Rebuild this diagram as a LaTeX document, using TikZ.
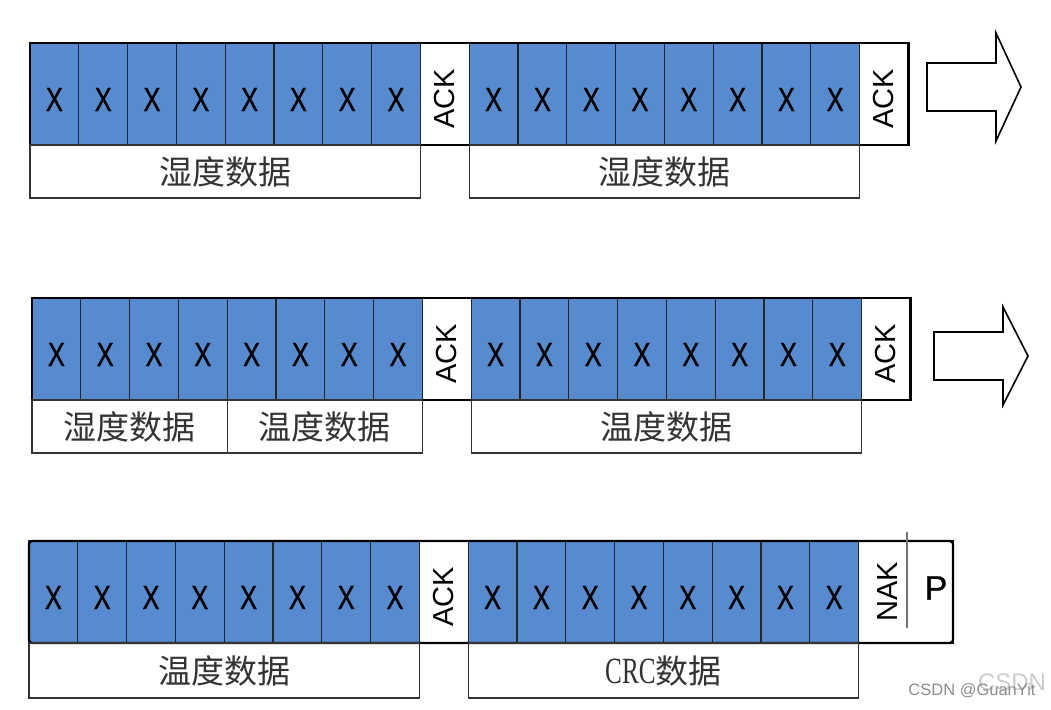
\documentclass[tikz,border=0pt]{standalone}
\usepackage{fontspec}
\setmainfont{Liberation Sans}
\newfontfamily\cjk{Noto Sans CJK SC}
\newfontfamily\cellfont[FakeStretch=0.76, FakeBold=0.8]{Liberation Sans}
\newfontfamily\pfont[FakeBold=0.8]{Liberation Sans}
\newfontfamily\crcfont[FakeStretch=0.68]{Liberation Serif}
\definecolor{cellblue}{RGB}{88,138,208}

\begin{document}
\begin{tikzpicture}[x=1pt, y=-1pt,
  cell/.style={rectangle, draw=black!85, line width=1.2pt, fill=cellblue, minimum width=48.8pt, minimum height=102pt, inner sep=0pt, outer sep=0pt, text height=34pt, text depth=0pt, font={\cellfont\fontsize{33.5}{34}\selectfont}},
  ackcell/.style={cell, fill=white},
  vtext/.style={rotate=90, inner sep=0pt, font={\fontsize{29}{30}\selectfont}},
  lbl/.style={rectangle, draw=black!80, line width=1.2pt, minimum height=53pt, inner sep=0pt, outer sep=0pt, anchor=north west, text=black!80, font={\cjk\fontsize{33}{34}\selectfont}},
  frame/.style={draw=black, line width=2.4pt},
  bigarrow/.style={draw=black, line width=1.6pt, fill=white, line join=miter}
]
  \useasboundingbox (0,0) rectangle (1051,709);

  % three rows of 8+8 bits
  \foreach \r/\xo/\yc in {1/30/94, 2/32/349, 3/29/592} {
    \foreach \i in {1,...,8} {
      \node[cell] (c\r-\i) at ({\xo+(\i-0.5)*48.8}, \yc) {X};
      \node[cell] (d\r-\i) at ({\xo+(\i+8.5)*48.8}, \yc) {X};
    }
    \node[ackcell] (a\r) at ({\xo+8.5*48.8}, \yc) {};
    \node[vtext] (at\r) at ([yshift=-5pt]a\r.center) {ACK};
  }

  % rows 1 and 2 end with ACK and an arrow
  \foreach \r/\xo/\yc/\ax/\ay/\hh in {1/30/94/927/87/54, 2/32/349/934/356/49} {
    \node[ackcell] (b\r) at ({\xo+17.5*48.8}, \yc) {};
    \node[vtext] (bt\r) at ([yshift=-5pt]b\r.center) {ACK};
    \draw[frame] (c\r-1.north west) rectangle (b\r.south east);
    \coordinate (t\r) at (\ax,\ay);
    \draw[bigarrow] (t\r) ++(0,-24) -- ++(69,0) -- ++(0,{24-\hh}) -- ++(25,\hh)
      -- ++(-25,\hh) -- ++(0,{24-\hh}) -- ++(-69,0) -- cycle;
  }

  % row 3 ends with NAK / P
  \node[ackcell, minimum width=94.4pt] (np3) at ({29+17*48.8+47.2}, 592) {};
  \draw[frame, rounded corners=3pt] (c3-1.north west) rectangle (np3.south east);
  \node[vtext] (nak) at (887.5,592) {NAK};
  \node[inner sep=0pt, font={\pfont\fontsize{34}{35}\selectfont}] (p3) at (936,588) {P};
  \coordinate (divtop) at (907,532);
  \coordinate (divbot) at (907,628);
  \draw[black!55, line width=1.2pt] (divtop) -- (divbot);

  % data labels
  \node[lbl, minimum width=390.4pt] (h1a) at (c1-1.south west) {湿度数据};
  \node[lbl, minimum width=390.4pt] (h1b) at (d1-1.south west) {湿度数据};
  \node[lbl, minimum width=195.2pt] (h2a) at (c2-1.south west) {湿度数据};
  \node[lbl, minimum width=195.2pt] (h2b) at (c2-5.south west) {温度数据};
  \node[lbl, minimum width=390.4pt] (h2c) at (d2-1.south west) {温度数据};
  \node[lbl, minimum width=390.4pt, minimum height=55pt] (h3a) at (c3-1.south west) {温度数据};
  \node[lbl, minimum width=390.4pt, minimum height=55pt] (h3b) at (d3-1.south west)
    {{\crcfont\fontsize{37}{38}\selectfont CRC}数据};

  % watermark
  \node[text=black!20, font={\fontsize{24}{25}\selectfont}] (wm2) at (1012,682) {CSDN};
  \node[text=black!45, font={\fontsize{16.5}{17}\selectfont}] (wm1) at (972,691) {CSDN @GuanYit};
\end{tikzpicture}
\end{document}
